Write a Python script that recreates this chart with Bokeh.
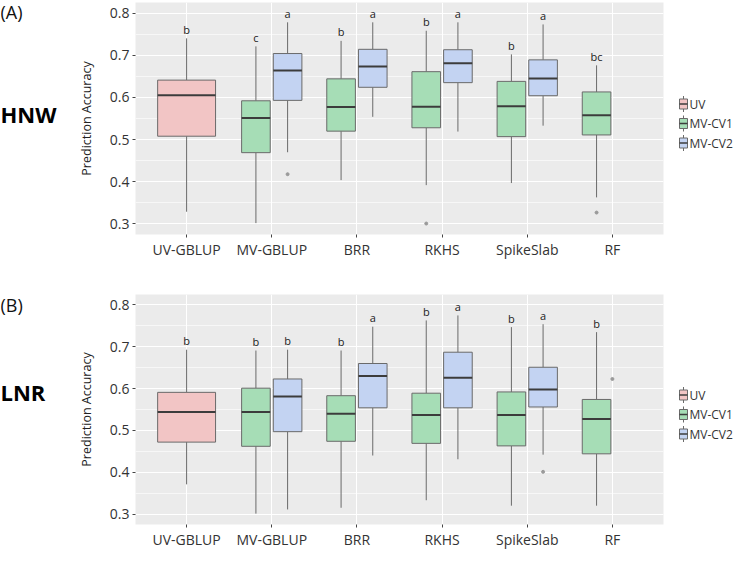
from bokeh.plotting import figure
from bokeh.models import (ColumnDataSource, FixedTicker, SingleIntervalTicker, Range1d)
from bokeh.layouts import column, row
from bokeh.embed import file_html
from bokeh.resources import INLINE
from bokeh.core.properties import value

# ---------------- data ----------------
methods = ["UV-GBLUP", "MV-GBLUP", "BRR", "RKHS", "SpikeSlab", "RF"]
groups = ["UV", "MV-CV1", "MV-CV2"]
cv1_methods = ["MV-GBLUP", "BRR", "RKHS", "SpikeSlab", "RF"]
cv2_methods = ["MV-GBLUP", "BRR", "RKHS", "SpikeSlab"]

# HNW panel (A)
hnw_uv_low, hnw_uv_q1, hnw_uv_med, hnw_uv_q3, hnw_uv_high = [0.329], [0.508], [0.605], [0.641], [0.740]
hnw_uv_letters = ["b"]
hnw_cv1_low = [0.302, 0.404, 0.392, 0.397, 0.363]
hnw_cv1_q1 = [0.469, 0.520, 0.528, 0.507, 0.511]
hnw_cv1_med = [0.551, 0.577, 0.578, 0.579, 0.558]
hnw_cv1_q3 = [0.592, 0.644, 0.661, 0.638, 0.613]
hnw_cv1_high = [0.721, 0.734, 0.758, 0.702, 0.676]
hnw_cv1_letters = ["c", "b", "b", "b", "bc"]
hnw_cv2_low = [0.470, 0.554, 0.519, 0.533]
hnw_cv2_q1 = [0.593, 0.624, 0.635, 0.604]
hnw_cv2_med = [0.664, 0.673, 0.681, 0.645]
hnw_cv2_q3 = [0.704, 0.714, 0.713, 0.689]
hnw_cv2_high = [0.778, 0.778, 0.778, 0.773]
hnw_cv2_letters = ["a", "a", "a", "a"]
hnw_out_group = ["MV-CV2", "MV-CV1", "MV-CV1"]
hnw_out_method = ["MV-GBLUP", "RKHS", "RF"]
hnw_out_value = [0.418, 0.301, 0.327]

# LNR panel (B)
lnr_uv_low, lnr_uv_q1, lnr_uv_med, lnr_uv_q3, lnr_uv_high = [0.371], [0.472], [0.544], [0.591], [0.693]
lnr_uv_letters = ["b"]
lnr_cv1_low = [0.301, 0.315, 0.333, 0.320, 0.320]
lnr_cv1_q1 = [0.462, 0.474, 0.469, 0.463, 0.444]
lnr_cv1_med = [0.544, 0.540, 0.537, 0.537, 0.527]
lnr_cv1_q3 = [0.601, 0.583, 0.589, 0.592, 0.574]
lnr_cv1_high = [0.691, 0.691, 0.763, 0.747, 0.735]
lnr_cv1_letters = ["b", "b", "b", "b", "b"]
lnr_cv2_low = [0.311, 0.440, 0.431, 0.442]
lnr_cv2_q1 = [0.497, 0.554, 0.554, 0.556]
lnr_cv2_med = [0.581, 0.630, 0.626, 0.598]
lnr_cv2_q3 = [0.623, 0.660, 0.687, 0.651]
lnr_cv2_high = [0.693, 0.748, 0.775, 0.754]
lnr_cv2_letters = ["b", "a", "a", "a"]
lnr_out_group = ["MV-CV2", "UV"]
lnr_out_method = ["SpikeSlab", "RF"]
lnr_out_value = [0.401, 0.623]

# ---------------- style ----------------
FONT = "Open Sans"
COLORS = {"UV": "#F2C5C5", "MV-CV1": "#A6DDB6", "MV-CV2": "#C3D3F2"}
OFFSETS = {"UV": 0.0, "MV-CV1": -0.186, "MV-CV2": 0.186}
HALF = {"UV": 0.34, "MV-CV1": 0.168, "MV-CV2": 0.168}
TEXT_COLOR = "#333333"
BOX_LINE = "#6a6a6a"
MED_LINE = "#3c3c3c"
X_LO, X_HI = -0.6, 5.6
Y_LO, Y_HI = 0.275, 0.825
SIDE_W = 70
MAIN_FRAME_W = 528
LEFT_BORDER = 65
RIGHT_BORDER = 6
LEG_W = 65


def box_source(group, meths, low, q1, med, q3, high, letters):
    xs = [methods.index(m) + OFFSETS[group] for m in meths]
    h = HALF[group]
    return ColumnDataSource(dict(
        x=xs, left=[x - h for x in xs], right=[x + h for x in xs],
        low=low, q1=q1, med=med, q3=q3, high=high, letter=letters))


def blank_fig(width, frame_h, border_top, border_bottom):
    f = figure(frame_width=width, frame_height=frame_h, x_range=Range1d(0, width),
               y_range=Range1d(0, frame_h), x_axis_type=None, y_axis_type=None,
               output_backend="svg", toolbar_location=None, min_border_left=0,
               min_border_right=0, min_border_top=border_top, min_border_bottom=border_bottom)
    f.grid.visible = False
    f.outline_line_color = None
    f.background_fill_color = "white"
    f.border_fill_color = "white"
    return f


def make_panel(box_groups, out_group, out_method, out_value, frame_h, border_top, border_bottom):
    p = figure(frame_width=MAIN_FRAME_W, frame_height=frame_h, x_range=Range1d(X_LO, X_HI),
               y_range=Range1d(Y_LO, Y_HI), output_backend="svg",
               toolbar_location=None, min_border_left=LEFT_BORDER, min_border_right=RIGHT_BORDER,
               min_border_top=border_top, min_border_bottom=border_bottom)
    p.background_fill_color = "#EBEBEB"
    p.border_fill_color = "white"
    p.outline_line_color = None

    p.xaxis.ticker = FixedTicker(ticks=list(range(len(methods))))
    p.xaxis.major_label_overrides = {i: m for i, m in enumerate(methods)}
    p.yaxis.ticker = SingleIntervalTicker(interval=0.1, num_minor_ticks=2)
    for ax in (p.xaxis, p.yaxis):
        ax.axis_line_color = None
        ax.major_tick_line_color = "#444444"
        ax.major_tick_out = 3
        ax.major_tick_in = 0
        ax.minor_tick_line_color = None
        ax.major_label_text_font = FONT
        ax.major_label_text_font_size = "14px"
        ax.major_label_text_color = TEXT_COLOR
        ax.major_label_standoff = 2
    p.yaxis.axis_label = "Prediction Accuracy"
    p.yaxis.axis_label_text_font = FONT
    p.yaxis.axis_label_text_font_size = "12.5px"
    p.yaxis.axis_label_text_font_style = "normal"
    p.yaxis.axis_label_text_color = "#222222"
    p.yaxis.axis_label_standoff = 12

    p.xgrid.grid_line_color = "white"
    p.xgrid.grid_line_width = 1.1
    p.ygrid.grid_line_color = "white"
    p.ygrid.grid_line_width = 1.1
    p.ygrid.minor_grid_line_color = "white"
    p.ygrid.minor_grid_line_width = 0.6

    for name, src in box_groups:
        p.segment(x0="x", y0="q3", x1="x", y1="high", source=src,
                  line_color=BOX_LINE, line_width=1)
        p.segment(x0="x", y0="low", x1="x", y1="q1", source=src,
                  line_color=BOX_LINE, line_width=1)
        p.quad(left="left", right="right", bottom="q1", top="q3", source=src,
               fill_color=COLORS[name], line_color=BOX_LINE, line_width=1)
        p.segment(x0="left", y0="med", x1="right", y1="med", source=src,
                  line_color=MED_LINE, line_width=2)
        p.text(x="x", y="high", text="letter", source=src, text_align="center",
               text_baseline="middle", y_offset=-9, text_font=value(FONT),
               text_font_size="11px", text_color="#222222")

    ox = [methods.index(m) + OFFSETS[g] for g, m in zip(out_group, out_method)]
    p.scatter(x=ox, y=out_value, size=3, color="#9a9a9a")
    return p


def make_side(frame_h, border_top, border_bottom, tag, tag_y, trait, trait_y):
    s = blank_fig(SIDE_W, frame_h, border_top, border_bottom)
    s.text(x=[0], y=[tag_y], text=[tag], text_font=value(FONT), text_font_size="18px",
           text_color="#111111", text_baseline="middle", text_align="left")
    s.text(x=[0], y=[trait_y], text=[trait], text_font=value(FONT), text_font_size="22px",
           text_font_style="bold", text_color="#000000", text_baseline="middle",
           text_align="left")
    return s


def make_legend(frame_h, border_top, border_bottom):
    g = blank_fig(LEG_W, frame_h, border_top, border_bottom)
    row_gap = 19.5
    yc = frame_h / 2 - 5
    ys = [yc + row_gap * (1 - i) for i in range(len(groups))]
    kx0, kx1 = 10, 18
    kxm = (kx0 + kx1) / 2
    src = ColumnDataSource(dict(
        y=ys, top=[y + 5 for y in ys], bottom=[y - 5 for y in ys],
        wtop=[y + 8 for y in ys], wbot=[y - 8 for y in ys],
        fill=[COLORS[n] for n in groups], label=groups))
    g.segment(x0=kxm, y0="top", x1=kxm, y1="wtop", source=src, line_color=BOX_LINE)
    g.segment(x0=kxm, y0="bottom", x1=kxm, y1="wbot", source=src, line_color=BOX_LINE)
    g.quad(left=kx0, right=kx1, bottom="bottom", top="top", source=src,
           fill_color="fill", line_color=BOX_LINE, line_width=1)
    g.segment(x0=kx0, y0="y", x1=kx1, y1="y", source=src, line_color=MED_LINE, line_width=1.5)
    g.text(x=20, y="y", text="label", source=src, text_font=value(FONT),
           text_font_size="12px", text_color=TEXT_COLOR, text_baseline="middle",
           text_align="left")
    return g


hnw_groups = [
    ("UV", box_source("UV", ["UV-GBLUP"], hnw_uv_low, hnw_uv_q1, hnw_uv_med, hnw_uv_q3, hnw_uv_high, hnw_uv_letters)),
    ("MV-CV1", box_source("MV-CV1", cv1_methods, hnw_cv1_low, hnw_cv1_q1, hnw_cv1_med, hnw_cv1_q3, hnw_cv1_high, hnw_cv1_letters)),
    ("MV-CV2", box_source("MV-CV2", cv2_methods, hnw_cv2_low, hnw_cv2_q1, hnw_cv2_med, hnw_cv2_q3, hnw_cv2_high, hnw_cv2_letters)),
]
lnr_groups = [
    ("UV", box_source("UV", ["UV-GBLUP"], lnr_uv_low, lnr_uv_q1, lnr_uv_med, lnr_uv_q3, lnr_uv_high, lnr_uv_letters)),
    ("MV-CV1", box_source("MV-CV1", cv1_methods, lnr_cv1_low, lnr_cv1_q1, lnr_cv1_med, lnr_cv1_q3, lnr_cv1_high, lnr_cv1_letters)),
    ("MV-CV2", box_source("MV-CV2", cv2_methods, lnr_cv2_low, lnr_cv2_q1, lnr_cv2_med, lnr_cv2_q3, lnr_cv2_high, lnr_cv2_letters)),
]

# top panel: frame 232 px, borders 2 / 38 ; bottom panel: frame 230 px, borders 22 / 22
p1 = make_panel(hnw_groups, hnw_out_group, hnw_out_method, hnw_out_value, 232, 2, 38)
p2 = make_panel(lnr_groups, lnr_out_group, lnr_out_method, lnr_out_value, 230, 22, 22)
s1 = make_side(232, 2, 38, "(A)", 223, "HNW", 121)
s2 = make_side(230, 22, 22, "(B)", 220, "LNR", 133)
l1 = make_legend(232, 2, 38)
l2 = make_legend(230, 22, 22)

layout = column(row(s1, p1, l1, spacing=0), row(s2, p2, l2, spacing=0), spacing=0)
open("out.html", "w").write(file_html(layout, INLINE))
